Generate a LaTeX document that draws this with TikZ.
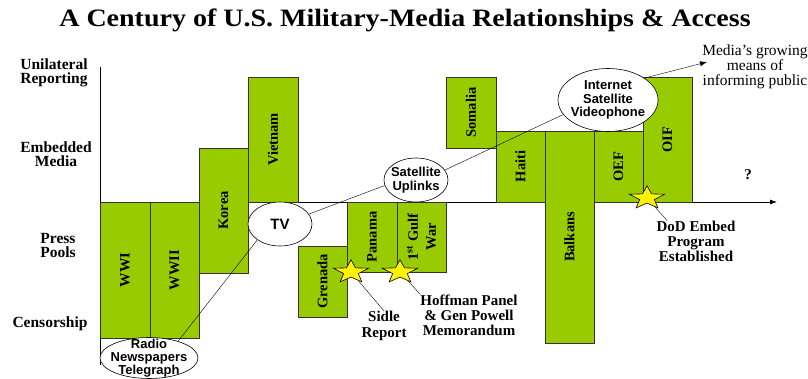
\documentclass[tikz,border=0pt]{standalone}
\usepackage{fontspec}
\setmainfont{Liberation Serif}
\newfontfamily\ovalfont{Liberation Sans}
\usepackage{xcolor}
\usepackage{tikz}
\usetikzlibrary{arrows.meta,shapes.geometric}
\definecolor{barGreen}{HTML}{99CC00}

\begin{document}
\begin{tikzpicture}[x=1pt,y=-1pt,
	warbar/.style={fill=barGreen,draw=black!80,line width=0.8pt},
	barlabel/.style={rotate=90,inner sep=0pt,align=center,font=\bfseries\fontsize{14.5}{18}\selectfont},
	levellabel/.style={inner sep=0pt,align=center,font=\bfseries\fontsize{15.5}{14}\selectfont},
	medium/.style={ellipse,draw,fill=white,line width=0.6pt,inner sep=-14pt,align=center,font=\ovalfont\bfseries\fontsize{13}{13.5}\selectfont},
	event/.style={star,star points=5,star point ratio=2.4,draw,fill=yellow,line width=0.6pt,minimum size=37pt,inner sep=0pt,yscale=0.66},
	remark/.style={inner sep=0pt,align=center,font=\bfseries\fontsize{15}{15}\selectfont}]
				\useasboundingbox (0,0) rectangle (808,379);
				\node[inner sep=0pt,font=\bfseries\fontsize{25}{25}\selectfont,xscale=1.12] (title) at (405,20) {A Century of U.S. Military-Media Relationships \& Access};
				\coordinate (ytop) at (100,67);
				\coordinate (ybottom) at (100,365);
				\coordinate (origin) at (100,202);
				\coordinate (xend) at (777,202);
				\draw[line width=0.8pt] (ytop) -- (ybottom);
				\draw[line width=0.8pt,-{Latex[length=7pt,width=5pt]}] (origin) -- (xend);
				\node[levellabel] (unilateral) at (54,73) {Unilateral\\Reporting};
				\node[levellabel] (embedded) at (56,154) {Embedded\\Media};
				\node[levellabel] (pools) at (58,246) {Press\\Pools};
				\node[levellabel] (censor) at (50,324) {Censorship};
				\foreach \xa/\ya/\xb/\yb/\tag/\war in {100/202/150/338/wwi/WWI, 150/202/199/338/wwii/WWII, 199/148/248/273/korea/Korea, 248/77/298/202/vietnam/Vietnam, 298/246/347/317/grenada/Grenada, 347/202/397/272/panama/Panama, 397/202/446/272/gulf/{1\textsuperscript{st} Gulf\\War}, 446/77/496/148/somalia/Somalia, 496/131/545/202/haiti/Haiti, 545/131/594/343/balkans/Balkans, 594/131/643/202/oef/OEF, 643/77/692/202/oif/OIF}{
					\draw[warbar] (\xa,\ya) rectangle (\xb,\yb);
					\node[barlabel] (\tag) at ({(\xa+\xb)/2},{(\ya+\yb)/2}) {\war};
				}
				\node[medium,minimum width=98pt,minimum height=41pt,font=\ovalfont\bfseries\fontsize{13}{13}\selectfont] (radio) at (149,358) {Radio\\Newspapers\\Telegraph};
				\node[medium,minimum width=64pt,minimum height=44pt,font=\ovalfont\bfseries\fontsize{15}{15}\selectfont] (tv) at (280,224) {TV};
				\node[medium,minimum width=64pt,minimum height=44pt] (sat) at (416,180) {Satellite\\Uplinks};
				\node[medium,minimum width=100pt,minimum height=63pt] (net) at (608,100) {Internet\\Satellite\\Videophone};
				\coordinate (mediatip) at (707,62);
				\node[inner sep=0pt,align=center,font=\fontsize{15.5}{15}\selectfont] (media) at (755,67) {Media's growing\\means of\\informing public};
				\draw (radio.30) -- (tv.215);
				\draw (tv.19) -- (sat.190);
				\draw (sat.19) -- (net.198);
				\draw[-{Latex[length=7pt,width=5pt]}] (net.31) -- (mediatip);
				\node[event] (sidlestar) at (351,272) {};
				\node[event] (hoffstar) at (400,272) {};
				\node[event] (dodstar) at (647,198) {};
				\node[remark,font=\bfseries\fontsize{15}{16}\selectfont] (sidle) at (384,326) {Sidle\\Report};
				\node[remark] (hoffman) at (469,315) {Hoffman Panel\\\& Gen Powell\\Memorandum};
				\node[remark] (dod) at (696,241) {DoD Embed\\Program\\Established};
				\node[remark] (unknown) at (748,175) {?};
				\draw (sidlestar) -- (sidle.north);
				\draw (hoffstar) -- (hoffman.north west);
				\draw (dodstar) -- ([xshift=-29pt]dod.north);
				\end{tikzpicture}
\end{document}
